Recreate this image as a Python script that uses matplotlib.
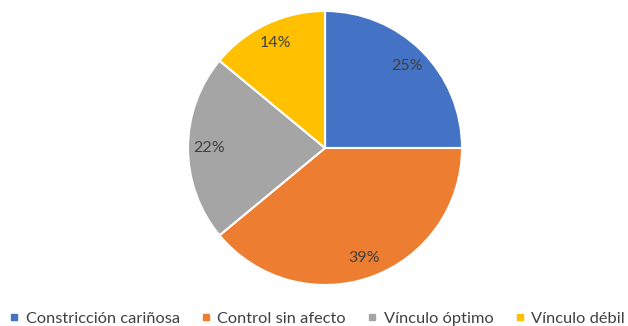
import matplotlib.pyplot as plt
from matplotlib.lines import Line2D

labels = ["Constricción cariñosa", "Control sin afecto", "Vínculo óptimo", "Vínculo débil"]
values = [25, 39, 22, 14]
colors = ["#4472C4", "#ED7D31", "#A5A5A5", "#FFC000"]

plt.rcParams["font.family"] = ["Lato", "DejaVu Sans"]

fig = plt.figure(figsize=(6.28, 3.26), dpi=100)
ax = fig.add_axes([0.2994, 0.1258, 0.4363, 0.8405])
wedges, texts, autotexts = ax.pie(
    values, colors=colors, startangle=90, counterclock=False,
    autopct="%1.0f%%", pctdistance=0.85,
    wedgeprops=dict(edgecolor="white", linewidth=1.5),
    textprops=dict(color="#404040", fontsize=11.5))
ax.set_xlim(-1, 1)
ax.set_ylim(-1, 1)
ax.set_aspect("equal")

handles = [Line2D([0], [0], marker="s", linestyle="", color=c, markersize=5)
           for c in colors]
fig.legend(handles, labels, loc="lower center", ncol=4, frameon=False,
           bbox_to_anchor=(0.505, -0.045), fontsize=11.8, handlelength=0.6,
           handletextpad=0.4, columnspacing=1.3, labelcolor="#404040")

fig.savefig("out.png", dpi=100)
